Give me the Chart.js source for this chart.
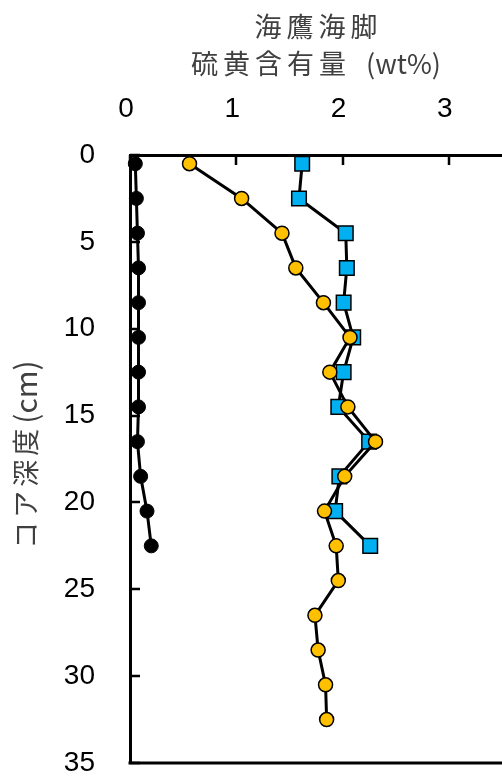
<!DOCTYPE html>
<html>
<head>
<meta charset="utf-8">
<script src="https://cdn.jsdelivr.net/npm/chart.js@4/dist/chart.umd.min.js"></script>
<style>
  html, body { margin: 0; padding: 0; background: #fff; }
  #wrap { width: 502px; height: 778px; }
</style>
</head>
<body>
<div id="wrap"><canvas id="c" width="502" height="778"></canvas></div>
<script>
// Core depth (cm) of each sample
const depthShort = [0.5, 2.5, 4.5, 6.5, 8.5, 10.5, 12.5, 14.5, 16.5, 18.5, 20.5, 22.5];
const depthLong  = [0.5, 2.5, 4.5, 6.5, 8.5, 10.5, 12.5, 14.5, 16.5, 18.5, 20.5, 22.5, 24.5, 26.5, 28.5, 30.5, 32.5];

// Sulfur content (wt%) for the three cores
const sulfurBlack  = [0.05, 0.06, 0.07, 0.08, 0.08, 0.08, 0.08, 0.08, 0.07, 0.10, 0.16, 0.20];
const sulfurYellow = [0.56, 1.05, 1.43, 1.56, 1.82, 2.07, 1.88, 2.05, 2.31, 2.02, 1.83, 1.94, 1.96, 1.74, 1.77, 1.84, 1.85];
const sulfurBlue   = [1.62, 1.59, 2.03, 2.04, 2.01, 2.10, 2.01, 1.96, 2.25, 1.97, 1.93, 2.26];

// Axis ticks
const xTickValues = [0, 1, 2, 3];
const yTickValues = [0, 5, 10, 15, 20, 25, 30, 35];

// Axis titles
const xTitleTop  = '海鷹海脚';
const xTitleMain = '硫黄含有量';
const xTitleUnit = '(wt%)';
const yTitleMain = 'コア深度';
const yTitleUnit = '(cm)';

const toPoints = (xs, ys) => xs.map((v, i) => ({ x: v, y: ys[i] }));

const digitFont = { family: "'Liberation Sans', Arial, sans-serif", size: 28 };
const cjkFamily = "'Noto Sans CJK JP', 'Noto Sans', sans-serif";
const titleColor = '#404040';

// Inward tick marks and the bottom frame line
const innerTicks = {
  id: 'innerTicks',
  beforeDatasetsDraw(chart) {
    const { ctx, chartArea: a, scales: { x, y } } = chart;
    ctx.save();
    ctx.strokeStyle = '#000';
    ctx.lineWidth = 2.5;
    ctx.beginPath();
    x.ticks.forEach(t => {
      const px = Math.round(x.getPixelForValue(t.value));
      ctx.moveTo(px, a.top);
      ctx.lineTo(px, a.top + 10);
    });
    y.ticks.forEach(t => {
      const py = Math.round(y.getPixelForValue(t.value));
      ctx.moveTo(a.left, py);
      ctx.lineTo(a.left + 10, py);
    });
    ctx.stroke();
    ctx.lineWidth = 3;
    ctx.beginPath();
    ctx.moveTo(a.left - 1.5, a.bottom);
    ctx.lineTo(a.right, a.bottom);
    ctx.stroke();
    ctx.restore();
  }
};

// Writes kanji/kana with wider tracking followed by a unit in plain spacing,
// centred on (0, 0) of the current transform.
function drawTitleRun(ctx, main, mainSize, spacing, unit, unitSize, gap) {
  const sp = ('letterSpacing' in ctx) ? spacing : 0;
  ctx.font = `${mainSize}px ${cjkFamily}`;
  if (sp) ctx.letterSpacing = sp + 'px';
  const wa = ctx.measureText(main).width - sp;
  ctx.font = `${unitSize}px ${cjkFamily}`;
  if (sp) ctx.letterSpacing = '0px';
  const wb = unit ? ctx.measureText(unit).width : 0;
  const total = wa + (unit ? gap + wb : 0);
  const x0 = -total / 2;
  ctx.font = `${mainSize}px ${cjkFamily}`;
  if (sp) ctx.letterSpacing = sp + 'px';
  ctx.fillText(main, x0, 0);
  if (unit) {
    ctx.font = `${unitSize}px ${cjkFamily}`;
    if (sp) ctx.letterSpacing = '0px';
    ctx.fillText(unit, x0 + wa + gap, 0);
  }
}

// Axis titles: two lines above the top axis, one rotated line left of the depth axis
const axisTitles = {
  id: 'axisTitles',
  afterDraw(chart) {
    const { ctx, chartArea: a } = chart;
    const cx = (a.left + a.right) / 2;
    const cy = (a.top + a.bottom) / 2;
    ctx.save();
    ctx.fillStyle = titleColor;
    ctx.textBaseline = 'middle';
    ctx.textAlign = 'left';

    ctx.save();
    ctx.translate(cx, 27);
    drawTitleRun(ctx, xTitleTop, 27, 5, '', 27, 0);
    ctx.restore();

    ctx.save();
    ctx.translate(cx, 64);
    drawTitleRun(ctx, xTitleMain, 27, 5, xTitleUnit, 27, 20);
    ctx.restore();

    ctx.save();
    ctx.translate(25.5, cy - 4.5);
    ctx.rotate(-Math.PI / 2);
    drawTitleRun(ctx, yTitleMain, 27, 4, yTitleUnit, 30, 5);
    ctx.restore();

    ctx.restore();
  }
};

new Chart(document.getElementById('c'), {
  type: 'scatter',
  data: {
    datasets: [
      {
        data: toPoints(sulfurYellow, depthLong),
        showLine: true,
        borderColor: '#000',
        borderWidth: 3,
        pointBackgroundColor: '#FFC000',
        pointBorderColor: '#000',
        pointBorderWidth: 1.5,
        pointRadius: 7,
        pointStyle: 'circle',
        clip: false
      },
      {
        data: toPoints(sulfurBlue, depthShort),
        showLine: true,
        borderColor: '#000',
        borderWidth: 3,
        pointBackgroundColor: '#00B0F0',
        pointBorderColor: '#000',
        pointBorderWidth: 1.5,
        pointRadius: 10.3,
        pointStyle: 'rect',
        clip: false
      },
      {
        data: toPoints(sulfurBlack, depthShort),
        showLine: true,
        borderColor: '#000',
        borderWidth: 3,
        pointBackgroundColor: '#000',
        pointBorderColor: '#000',
        pointBorderWidth: 1,
        pointRadius: 7,
        pointStyle: 'circle',
        clip: false
      }
    ]
  },
  options: {
    responsive: false,
    animation: false,
    devicePixelRatio: 1,
    layout: { autoPadding: false, padding: { top: 0, left: 0, right: 0, bottom: 15 } },
    plugins: {
      legend: { display: false },
      tooltip: { enabled: false }
    },
    scales: {
      x: {
        type: 'linear',
        position: 'top',
        min: 0,
        max: 3.5,
        afterBuildTicks: s => { s.ticks = xTickValues.map(v => ({ value: v })); },
        afterFit: s => { s.height = 155; s.paddingLeft = 0; s.paddingRight = 0; },
        grid: { display: false },
        border: { display: true, color: '#000', width: 3 },
        ticks: { font: digitFont, color: '#000', padding: 21, labelOffset: -4, maxRotation: 0 },
        title: { display: false }
      },
      y: {
        type: 'linear',
        position: 'left',
        reverse: true,
        min: 0,
        max: 35,
        afterBuildTicks: s => { s.ticks = yTickValues.map(v => ({ value: v })); },
        afterFit: s => { s.width = 130; s.paddingTop = 0; s.paddingBottom = 0; },
        grid: { display: false },
        border: { display: true, color: '#000', width: 3 },
        ticks: { font: digitFont, color: '#000', padding: 27 },
        title: { display: false }
      }
    }
  },
  plugins: [innerTicks, axisTitles]
});
</script>
</body>
</html>
